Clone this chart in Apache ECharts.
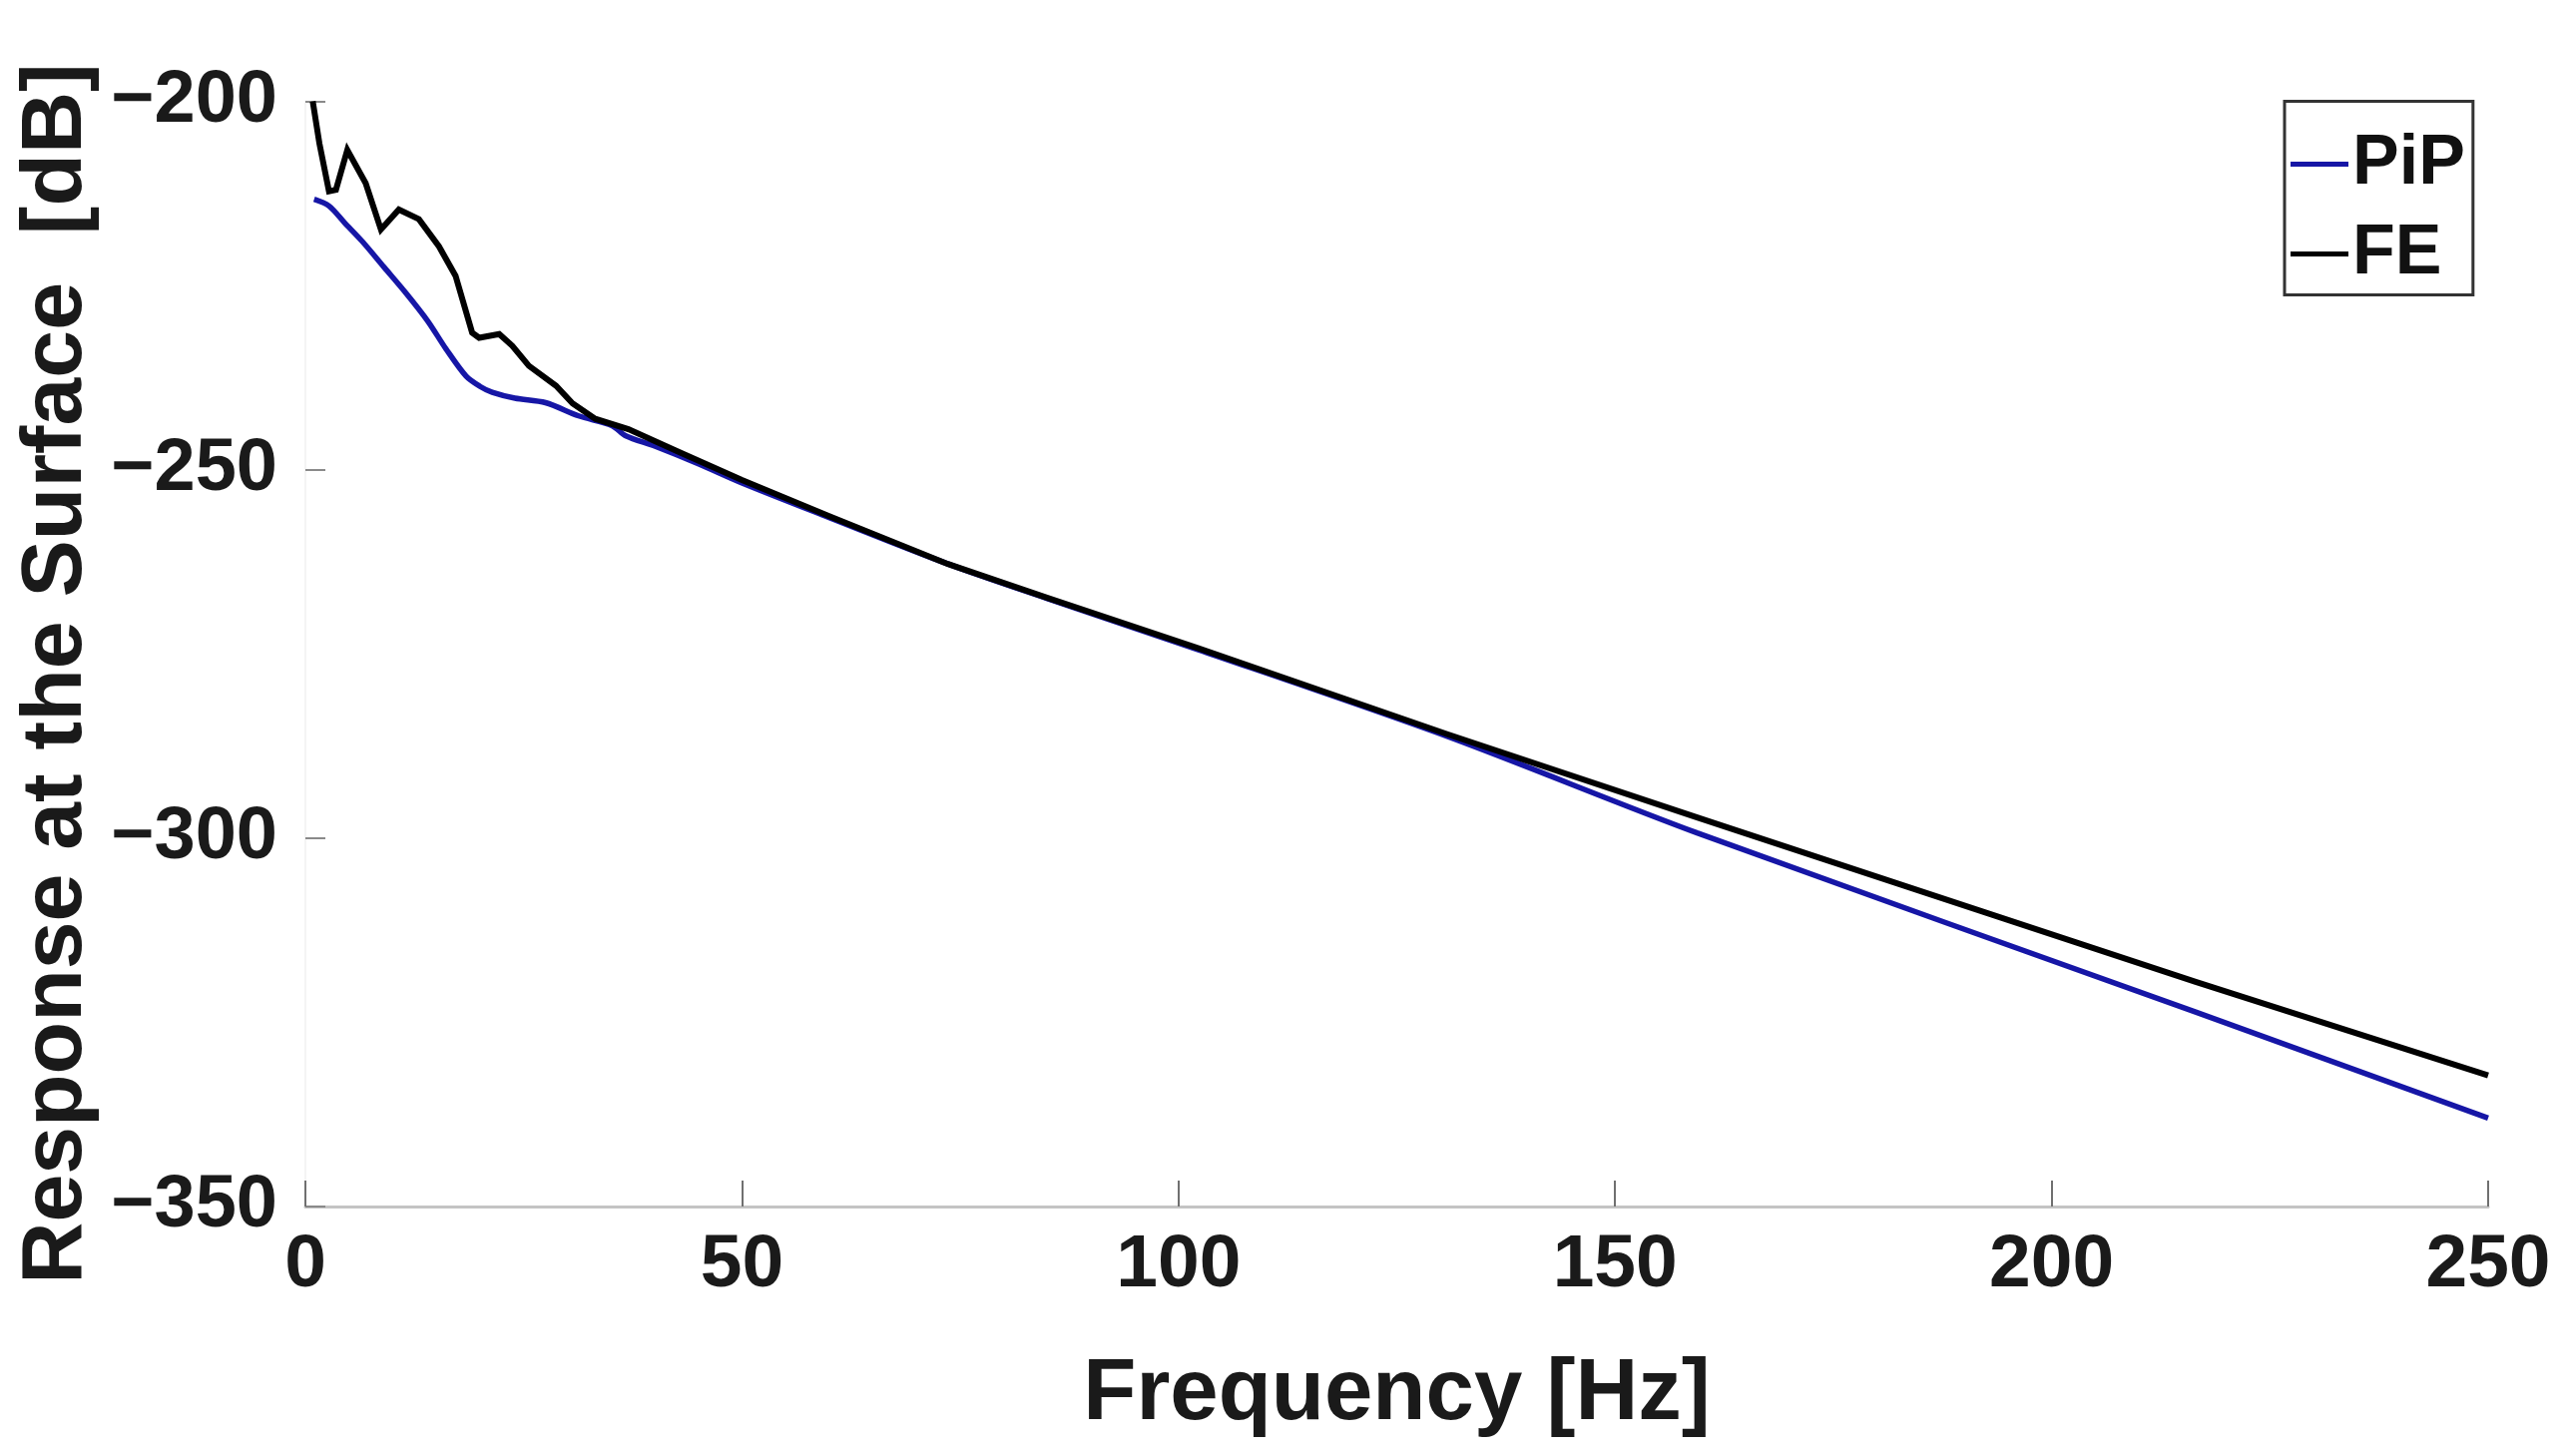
<!DOCTYPE html>
<html>
<head>
<meta charset="utf-8">
<script src="https://cdn.jsdelivr.net/npm/echarts@6/dist/echarts.min.js"></script>
<style>
html,body{margin:0;padding:0;background:#fff;}
#chart{width:2568px;height:1459px;}
</style>
</head>
<body>
<div id="chart"></div>
<script>
// PiP series (frequency in Hz, response in dB)
var pipFreq = [1, 2.7, 4.5, 6.5, 9, 11.5, 14, 16.1, 18.4, 20, 21.4, 24, 27.5, 31.3, 35.1, 36.7, 40, 45, 50, 60, 73.6, 85, 102.2, 130.8, 159.4, 216.5, 250];
var pipVals = [-213.3, -214.2, -216.5, -219.0, -222.5, -226.0, -229.8, -233.6, -237.3, -238.7, -239.5, -240.3, -240.9, -242.7, -244.0, -245.4, -246.8, -249.2, -251.8, -256.5, -262.8, -267.5, -274.4, -286.2, -299.3, -323.6, -338.0];
// FE series
var feFreq = [0.84, 1.6, 2.7, 3.5, 4.8, 6.9, 8.65, 10.7, 13.0, 15.3, 17.2, 19.1, 19.9, 22.2, 23.7, 25.6, 28.7, 30.6, 33.2, 37.0, 42.8, 50, 60, 73.6, 85, 102.2, 130.8, 159.4, 216.5, 250];
var feVals = [-200.0, -205.7, -212.2, -212.0, -206.6, -211.1, -217.4, -214.7, -216.0, -219.7, -223.7, -231.4, -232.1, -231.6, -233.2, -235.9, -238.6, -241.0, -243.1, -244.5, -247.6, -251.4, -256.3, -262.8, -267.4, -274.2, -285.9, -297.2, -319.5, -332.2];
// axis ticks
var xTicks = [0, 50, 100, 150, 200, 250];
var yTicks = [-350, -300, -250, -200];
var seriesNames = ['PiP', 'FE'];
var xTitle = 'Frequency [Hz]';
var yTitle = 'Response at the Surface  [dB]';

function pairs(xs, ys) { return xs.map(function (x, i) { return [x, ys[i]]; }); }

var FONT = '"Liberation Sans", Arial, sans-serif';
var BLUE = '#1616a6';
var chart = echarts.init(document.getElementById('chart'), null, {renderer: 'canvas'});
chart.setOption({
  animation: false,
  backgroundColor: '#ffffff',
  grid: {left: 306, right: 75, top: 101.5, bottom: 250},
  xAxis: {
    type: 'value',
    min: xTicks[0], max: xTicks[xTicks.length - 1], interval: 50,
    name: xTitle, nameLocation: 'middle', nameGap: 146,
    nameTextStyle: {fontFamily: FONT, fontWeight: 'bold', fontSize: 87, color: '#1a1a1a'},
    axisLine: {show: true, lineStyle: {color: '#c4c4c4', width: 3}},
    axisTick: {show: true, inside: true, length: 26, lineStyle: {color: '#707070', width: 2}},
    axisLabel: {margin: 22, fontFamily: FONT, fontWeight: 'bold', fontSize: 75, color: '#1a1a1a'},
    splitLine: {show: false}
  },
  yAxis: {
    type: 'value',
    min: yTicks[0], max: yTicks[yTicks.length - 1], interval: 50,
    axisLine: {show: true, lineStyle: {color: '#f4f4f4', width: 2}},
    axisTick: {show: true, inside: true, length: 20, lineStyle: {color: '#8a8a8a', width: 2}},
    axisLabel: {
      margin: 28, fontFamily: FONT,
      fontWeight: 'bold', fontSize: 74, color: '#1a1a1a',
      formatter: function (v) { return v < 0 ? '\u2212' + Math.abs(v) : String(v); }
    },
    splitLine: {show: false}
  },
  graphic: [{
    type: 'text',
    x: 57, y: 675,
    rotation: Math.PI / 2,
    style: {
      text: yTitle, fontFamily: FONT, fontWeight: 'bold', fontSize: 86, fill: '#1a1a1a',
      textAlign: 'center', textVerticalAlign: 'middle'
    }
  }],
  legend: {
    left: 2289, top: 101.5,
    orient: 'vertical', align: 'left',
    icon: 'rect',
    itemWidth: 58, itemHeight: 5, itemGap: 20,
    padding: [28, 8, 6, 6],
    borderColor: '#333333', borderWidth: 3, backgroundColor: '#ffffff',
    textStyle: {fontFamily: FONT, fontWeight: 'bold', fontSize: 70, color: '#111111', padding: [0, 0, 0, -1]},
    data: seriesNames
  },
  series: [{
    name: seriesNames[0], type: 'line', data: pairs(pipFreq, pipVals),
    symbol: 'none', smooth: 0.3,
    lineStyle: {color: BLUE, width: 5.5},
    itemStyle: {color: BLUE}
  }, {
    name: seriesNames[1], type: 'line', data: pairs(feFreq, feVals),
    symbol: 'none', smooth: false,
    lineStyle: {color: '#000000', width: 6, join: 'miter'},
    itemStyle: {color: '#000000'}
  }]
});
</script>
</body>
</html>
